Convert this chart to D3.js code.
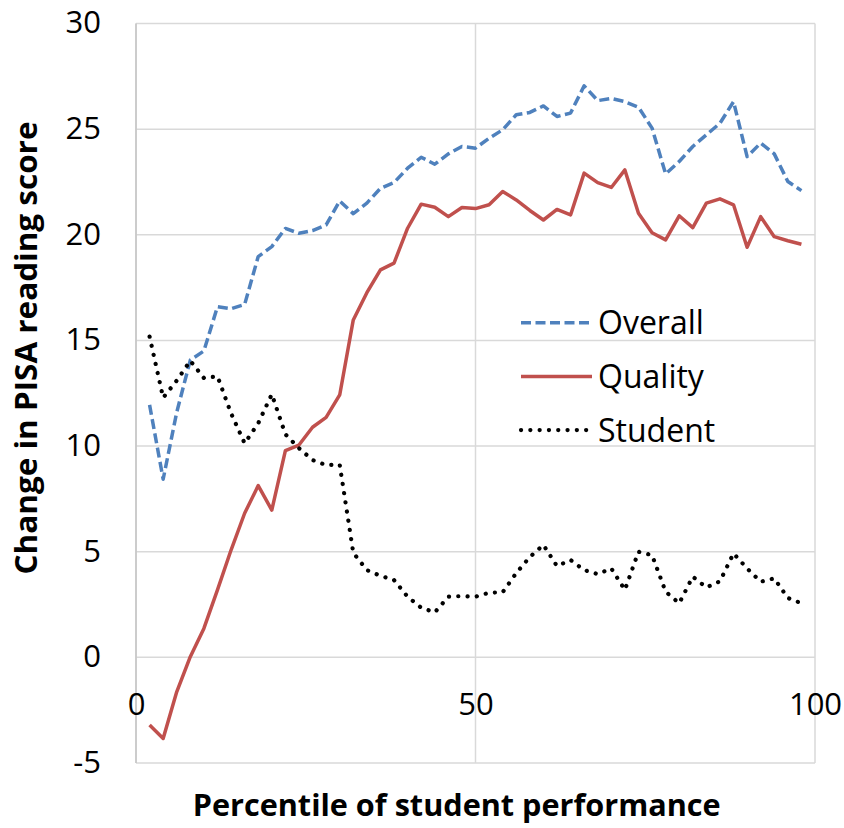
<!DOCTYPE html>
<html>
<head>
<meta charset="utf-8">
<script src="https://cdn.jsdelivr.net/npm/d3@7"></script>
<style>
  body { margin: 0; background: #fff; }
  svg { display: block; }
</style>
</head>
<body>
<div id="chart"></div>
<script>
// percentiles along the x axis
const percentiles = [2, 4, 6, 8, 10, 12, 14, 16, 18, 20, 22, 24, 26, 28, 30, 32, 34, 36, 38, 40,
    42, 44, 46, 48, 50, 52, 54, 56, 58, 60, 62, 64, 66, 68, 70, 72, 74, 76, 78, 80,
    82, 84, 86, 88, 90, 92, 94, 96, 98];

const overall = [11.95, 8.43, 11.6, 14.07, 14.5, 16.6, 16.5, 16.7, 18.97, 19.44,
    20.3, 20.07, 20.2, 20.47, 21.6, 21.0, 21.5, 22.2, 22.47, 23.15,
    23.67, 23.34, 23.83, 24.18, 24.1, 24.57, 24.97, 25.68, 25.79, 26.1,
    25.6, 25.76, 27.05, 26.35, 26.45, 26.3, 26.04, 25.05, 22.88, 23.47,
    24.18, 24.73, 25.28, 26.3, 23.7, 24.34, 23.83, 22.52, 22.09];

const quality = [-3.2, -3.84, -1.63, 0.03, 1.37, 3.19, 5.08, 6.82, 8.13, 6.97,
    9.78, 10.05, 10.89, 11.36, 12.42, 15.97, 17.26, 18.34, 18.66, 20.31,
    21.45, 21.3, 20.86, 21.29, 21.24, 21.42, 22.05, 21.65, 21.15, 20.7,
    21.2, 20.94, 22.92, 22.47, 22.24, 23.07, 21.02, 20.1, 19.76, 20.9,
    20.34, 21.5, 21.7, 21.42, 19.41, 20.86, 19.91, 19.72, 19.55];

const student = [15.18, 12.29, 13.1, 14.04, 13.22, 13.3, 11.55, 10.13, 11.08, 12.45,
    10.56, 9.9, 9.34, 9.1, 9.12, 4.95, 4.13, 3.86, 3.66, 2.87,
    2.35, 2.13, 2.87, 2.9, 2.87, 3.06, 3.08, 3.99, 4.75, 5.32,
    4.32, 4.61, 4.13, 3.94, 4.21, 3.19, 5.0, 4.84, 3.11, 2.56,
    3.82, 3.31, 3.6, 4.92, 4.21, 3.58, 3.74, 2.81, 2.56];

const seriesNames = ["Overall", "Quality", "Student"];
const yTicks = [-5, 0, 5, 10, 15, 20, 25, 30];
const xTicks = [0, 50, 100];

const width = 844, height = 828;
const grid = "#d9d9d9";
const font = "'Open Sans', 'Noto Sans', sans-serif";

const styles = {
    Overall: {color: "#4f81bd", width: 3.5, dash: "10,4.5", cap: "butt"},
    Quality: {color: "#c0504d", width: 3.5, dash: null, cap: "butt"},
    Student: {color: "#000000", width: 4.2, dash: "0.1,9.2", cap: "round"}
};

var svg = d3.select("#chart").append("svg")
    .attr("width", width)
    .attr("height", height);

var x = d3.scaleLinear().domain([0, 100]).range([136, 815]);
var y = d3.scaleLinear().domain([-5, 30]).range([763, 23.5]);

// horizontal gridlines
svg.append("g")
    .selectAll("line")
    .data(yTicks)
    .join("line")
    .attr("x1", x(0)).attr("x2", x(100))
    .attr("y1", d => y(d)).attr("y2", d => y(d))
    .attr("stroke", grid)
    .attr("stroke-width", 1.5);

// vertical gridlines
svg.append("g")
    .selectAll("line")
    .data(xTicks)
    .join("line")
    .attr("x1", d => x(d)).attr("x2", d => x(d))
    .attr("y1", y(30)).attr("y2", y(-5))
    .attr("stroke", grid)
    .attr("stroke-width", 1.5);

// left axis line a bit darker
svg.append("line")
    .attr("x1", x(0)).attr("x2", x(0))
    .attr("y1", y(30)).attr("y2", y(-5))
    .attr("stroke", "#c4c4c4")
    .attr("stroke-width", 1.5);

// y axis labels (plain hyphen for the negative tick, like the original)
var yAxis = svg.append("g")
    .attr("transform", "translate(" + x(0) + ",0)")
    .call(d3.axisLeft(y).tickValues(yTicks).tickSize(0).tickPadding(35)
        .tickFormat(d => String(d)));
yAxis.select(".domain").remove();
yAxis.selectAll("text")
    .attr("font-family", font)
    .attr("font-size", "31px")
    .attr("fill", "#000")
    .attr("dy", "0.3em");

// x axis labels, sitting under the zero line
var xAxis = svg.append("g")
    .attr("transform", "translate(0," + y(0) + ")")
    .call(d3.axisBottom(x).tickValues(xTicks).tickSize(0).tickPadding(36)
        .tickFormat(d => String(d)));
xAxis.select(".domain").remove();
xAxis.selectAll("text")
    .attr("font-family", font)
    .attr("font-size", "31px")
    .attr("fill", "#000");

// lines
var table = seriesNames.map(function(name, i) {
    var vals = [overall, quality, student][i];
    return {name: name, values: percentiles.map((p, j) => ({p: p, v: vals[j]}))};
});

var line = d3.line()
    .x(d => x(d.p))
    .y(d => y(d.v));

svg.append("g")
    .selectAll("path")
    .data(table)
    .join("path")
    .attr("fill", "none")
    .attr("stroke", d => styles[d.name].color)
    .attr("stroke-width", d => styles[d.name].width)
    .attr("stroke-dasharray", d => styles[d.name].dash)
    .attr("stroke-linecap", d => styles[d.name].cap)
    .attr("stroke-linejoin", "round")
    .attr("d", d => line(d.values));

// legend
var legend = svg.append("g")
    .selectAll("g")
    .data(seriesNames)
    .join("g")
    .attr("transform", (d, i) => "translate(521," + (322.7 + i * 53.7) + ")");
legend.append("line")
    .attr("x1", 0).attr("x2", 71)
    .attr("y1", 0).attr("y2", 0)
    .attr("stroke", d => styles[d].color)
    .attr("stroke-width", d => styles[d].width)
    .attr("stroke-dasharray", d => styles[d].dash)
    .attr("stroke-linecap", d => styles[d].cap);
legend.append("text")
    .attr("x", 77)
    .attr("y", 11.6)
    .attr("font-family", font)
    .attr("font-size", "32px")
    .attr("fill", "#000")
    .text(d => d);

// axis titles
svg.append("text")
    .attr("transform", "translate(37,348) rotate(-90)")
    .attr("text-anchor", "middle")
    .attr("font-family", font)
    .attr("font-weight", "bold")
    .attr("font-size", "30px")
    .attr("textLength", 453)
    .attr("lengthAdjust", "spacingAndGlyphs")
    .text("Change in PISA reading score");

svg.append("text")
    .attr("x", 456.7)
    .attr("y", 816)
    .attr("text-anchor", "middle")
    .attr("font-family", font)
    .attr("font-weight", "bold")
    .attr("font-size", "30px")
    .attr("textLength", 528)
    .attr("lengthAdjust", "spacingAndGlyphs")
    .text("Percentile of student performance");
</script>
</body>
</html>
